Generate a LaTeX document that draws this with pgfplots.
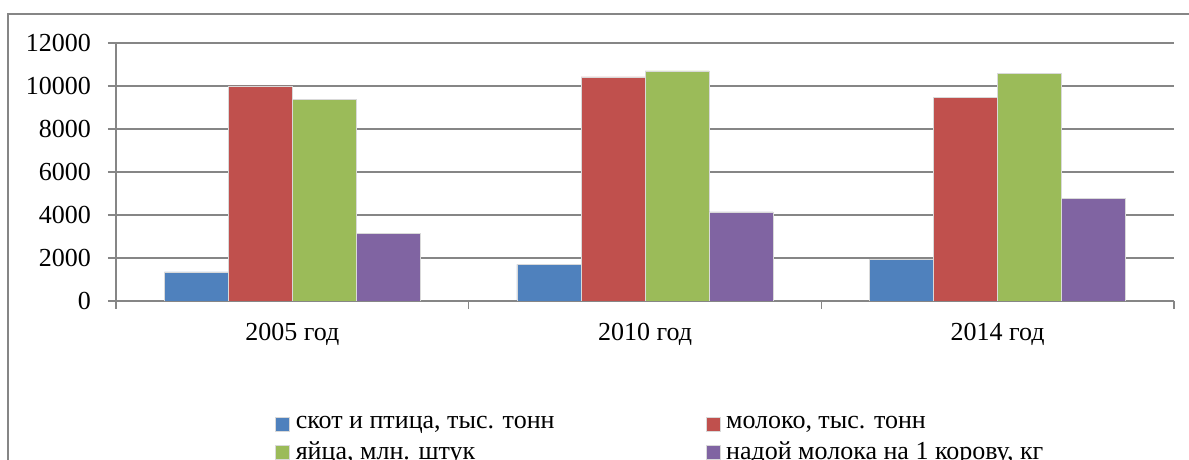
\documentclass[border=0pt]{standalone}
\usepackage{fontspec}
\setmainfont{Liberation Serif}
\usepackage{pgfplots}
\pgfplotsset{compat=1.18}
\definecolor{cBlue}{HTML}{4F81BD}
\definecolor{cRed}{HTML}{C0504D}
\definecolor{cGreen}{HTML}{9BBB59}
\definecolor{cPurple}{HTML}{8064A2}
\definecolor{axgray}{HTML}{868686}
\newcommand{\cf}{\fontsize{13}{15}\selectfont}
\begin{document}
\begin{tikzpicture}[x=1pt,y=1pt]
\useasboundingbox (0,0) rectangle (594.5,230);
\draw[axgray, line width=0.6pt] (4,-20) -- (4,223) -- (620,223);
\begin{axis}[
  at={(58pt,79.5pt)}, anchor=south west,
  scale only axis, width=529pt, height=129pt,
  xmin=-0.5, xmax=2.5, ymin=0, ymax=12000,
  ybar=0pt, bar width=32pt,
  axis x line*=bottom, axis y line*=left,
  axis line style={axgray, line width=0.75pt, -},
  ymajorgrids, grid style={axgray, line width=0.75pt},
  ytick={0,2000,...,12000},
  xtick={-0.5,0.5,1.5,2.5}, xticklabels={},
  extra x ticks={0,1,2},
  extra x tick labels={2005 год,2010 год,2014 год},
  extra x tick style={major tick length=0pt, xticklabel style={yshift=-7.5pt}},
  tick align=outside, major tick length=4pt,
  tick style={axgray, line width=0.75pt},
  /pgf/number format/assume math mode=true,
  scaled y ticks=false,
  yticklabel style={/pgf/number format/1000 sep={}, xshift=-5pt},
  ticklabel style={font=\cf, black},
  legend style={at={(0.1445,-0.415)}, anchor=north west, draw=none, fill=none,
    font=\cf, legend columns=2, row sep=1pt,
    /tikz/column 2/.style={column sep=72.5pt},
    nodes={inner xsep=3pt}},
  legend cell align=left,
  legend image code/.code={\fill[#1] (0pt,-3.5pt) rectangle (7pt,3.5pt);},
  every axis plot/.append style={draw=white!70!gray, line width=0.25pt},
]
\addplot[fill=cBlue] coordinates {(0,1360) (1,1700) (2,1920)};
\addplot[fill=cRed] coordinates {(0,10000) (1,10430) (2,9470)};
\addplot[fill=cGreen] coordinates {(0,9380) (1,10700) (2,10570)};
\addplot[fill=cPurple] coordinates {(0,3160) (1,4150) (2,4770)};
\legend{{скот и птица, тыс. тонн}, {молоко, тыс. тонн}, {яйца, млн. штук}, {надой молока на 1 корову, кг}}
\end{axis}
\end{tikzpicture}
\end{document}
